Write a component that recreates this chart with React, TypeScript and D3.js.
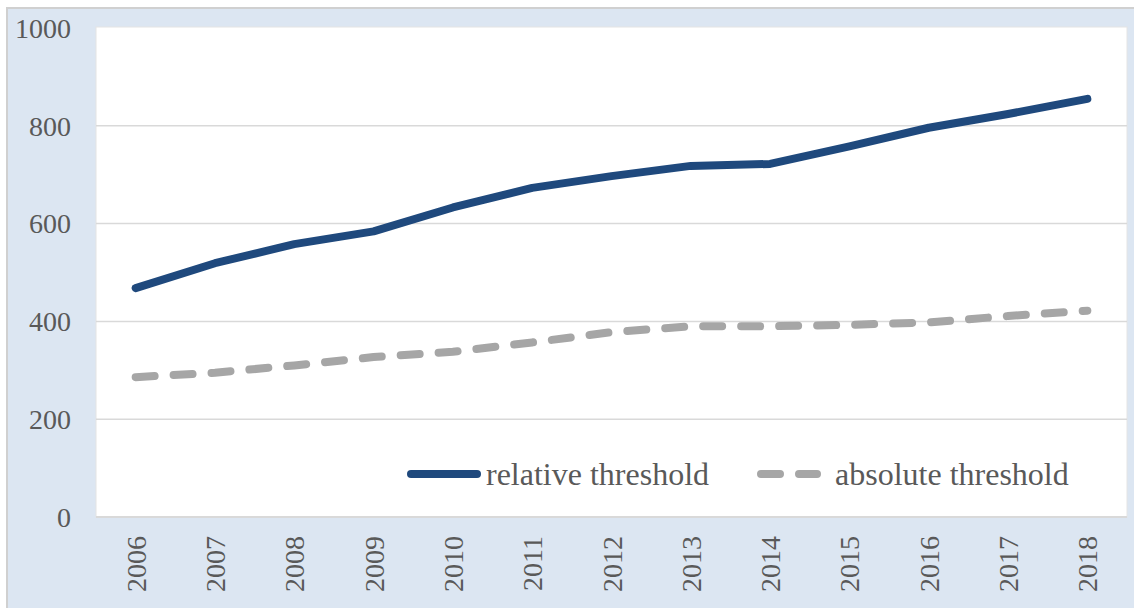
import React from "react";
import * as d3 from "d3";

const years = ["2006","2007","2008","2009","2010","2011","2012","2013","2014","2015","2016","2017","2018"];
const relativeThreshold = [468, 519, 558, 584, 633, 673, 697, 718, 722, 758, 796, 824, 855];
const absoluteThreshold = [286, 295, 310, 327, 338, 357, 378, 390, 390, 393, 398, 411, 422];
const yTicks = [0, 200, 400, 600, 800, 1000];
const seriesNames = ["relative threshold", "absolute threshold"];

const W = 1134, H = 608;
const plot = { left: 96, right: 1127, top: 28, bottom: 517 };
const BLUE = "#1f497d";
const GRAY = "#a6a6a6";
const TEXT = "#595959";
const FONT = "'Liberation Serif', 'Times New Roman', serif";

export default function App() {
  const x = d3.scalePoint<string>().domain(years).range([plot.left, plot.right]).padding(0.5);
  const y = d3.scaleLinear().domain([0, 1000]).range([plot.bottom, plot.top]);
  const line = d3.line<number>().x((_, i) => x(years[i]) as number).y((d) => y(d));

  return (
    <svg width={W} height={H} style={{ position: "absolute", left: 0, top: 0 }} fontFamily={FONT}>
      <rect x={7} y={8} width={W} height={H} fill="#dce6f2" stroke="#d0d0d0" strokeWidth={2} />
      <rect x={plot.left} y={plot.top - 1} width={plot.right - plot.left} height={plot.bottom - plot.top + 1} fill="#ffffff" stroke="#e4e4e4" strokeWidth={1} />
      {yTicks.filter((t) => t > 0 && t < 1000).map((t) => (
        <line key={t} x1={plot.left} x2={plot.right} y1={y(t)} y2={y(t)} stroke="#d9d9d9" strokeWidth={1.5} />
      ))}
      <line x1={plot.left} x2={plot.right} y1={y(0)} y2={y(0)} stroke="#d9d9d9" strokeWidth={2} />
      {yTicks.map((t) => (
        <text key={t} x={71} y={y(t)} dy="0.35em" textAnchor="end" fontSize={28} fill={TEXT}>{t}</text>
      ))}
      {years.map((yr) => (
        <text key={yr} transform={`translate(${(x(yr) as number) + 10},536) rotate(-90)`} textAnchor="end" fontSize={28} fill={TEXT}>{yr}</text>
      ))}
      <path d={line(absoluteThreshold) || ""} fill="none" stroke={GRAY} strokeWidth={8} strokeLinecap="round" strokeLinejoin="round" strokeDasharray="19 19" />
      <path d={line(relativeThreshold) || ""} fill="none" stroke={BLUE} strokeWidth={8} strokeLinecap="round" strokeLinejoin="round" />
      <g>
        <line x1={411} x2={477} y1={474} y2={474} stroke={BLUE} strokeWidth={8} strokeLinecap="round" />
        <text x={486} y={485} fontSize={32} fill={TEXT}>{seriesNames[0]}</text>
        <line x1={761} x2={817} y1={474} y2={474} stroke={GRAY} strokeWidth={8} strokeLinecap="round" strokeDasharray="19 19" />
        <text x={835} y={485} fontSize={32} fill={TEXT}>{seriesNames[1]}</text>
      </g>
    </svg>
  );
}
